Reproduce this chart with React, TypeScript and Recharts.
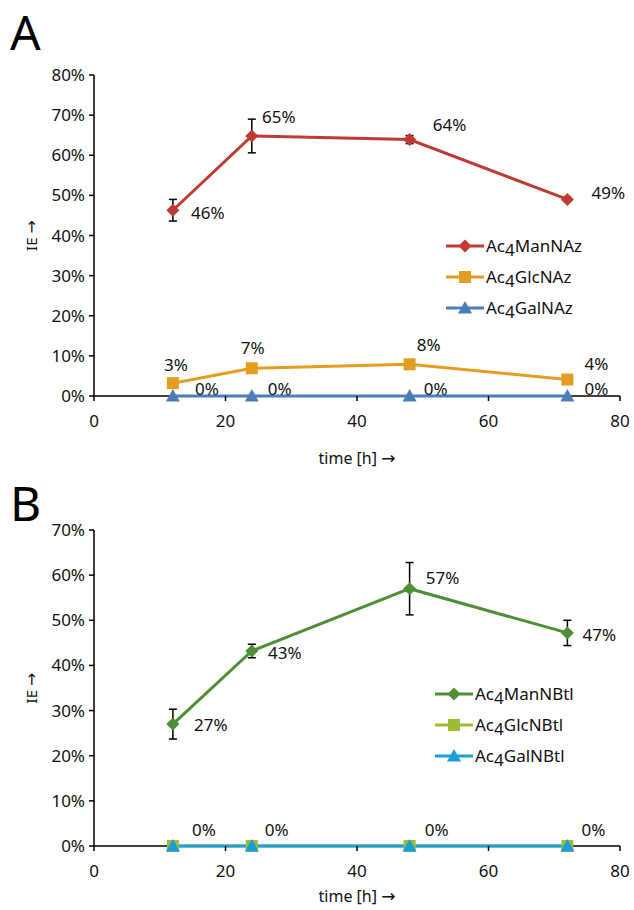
import { CartesianGrid, ErrorBar, Label, LabelList, Legend, Line, LineChart, XAxis, YAxis } from 'recharts';

const FONT = "'Noto Sans', sans-serif";
const ARROW_FONT = "'DejaVu Sans', sans-serif";

// shared x values (hours)
const HOURS = [12, 24, 48, 72];
const X_TICKS = [0, 20, 40, 60, 80];

// panel A
const MAN_NAZ = [46.3, 64.8, 63.9, 49.0];
const MAN_NAZ_ERR = [2.7, 4.2, 1.0, 0.5];
const GLC_NAZ = [3.2, 6.9, 7.9, 4.1];
const GAL_NAZ = [0, 0, 0, 0];
const A_Y_TICKS = [0, 10, 20, 30, 40, 50, 60, 70, 80];

// panel B
const MAN_NBTL = [27.0, 43.2, 57.0, 47.2];
const MAN_NBTL_ERR = [3.3, 1.5, 5.8, 2.8];
const GLC_NBTL = [0, 0, 0, 0];
const GAL_NBTL = [0, 0, 0, 0];
const B_Y_TICKS = [0, 10, 20, 30, 40, 50, 60, 70];

// label placement next to each point [dx, dy]
const OFF_A_MAN = [[35, 2], [27, -19], [40, -15], [41, -7]];
const OFF_A_GLC = [[3, -19], [1, -21], [19, -20], [29, -16]];
const OFF_A_GAL = [[34, -8], [28, -8], [26, -8], [29, -8]];
const OFF_B_MAN = [[38, 0], [33, 2], [33, -11], [32, 2]];
const OFF_B_ZERO = [[31, -17], [25, -17], [27, -17], [26, -17]];

const dataA = HOURS.map((h, i) => ({ hour: h, man: MAN_NAZ[i], manErr: MAN_NAZ_ERR[i], glc: GLC_NAZ[i], gal: GAL_NAZ[i] }));
const dataB = HOURS.map((h, i) => ({ hour: h, man: MAN_NBTL[i], manErr: MAN_NBTL_ERR[i], glc: GLC_NBTL[i], gal: GAL_NBTL[i] }));

type Shape = 'diamond' | 'square' | 'triangle';

function markerPath(shape: Shape, cx: number, cy: number) {
  if (shape === 'diamond') return `M${cx},${cy - 6.5}L${cx + 6.5},${cy}L${cx},${cy + 6.5}L${cx - 6.5},${cy}Z`;
  if (shape === 'square') return `M${cx - 6},${cy - 6}h12v12h-12Z`;
  return `M${cx},${cy - 7}L${cx + 7},${cy + 5.5}L${cx - 7},${cy + 5.5}Z`;
}

const dot = (shape: Shape, color: string) => (props: any) => {
  const { cx, cy, index } = props;
  if (cx == null || cy == null) return <g key={index} />;
  return <path key={index} d={markerPath(shape, cx, cy)} fill={color} />;
};

const pointLabel = (offsets: number[][]) => (props: any) => {
  const { x, y, value, index } = props;
  const [dx, dy] = offsets[index];
  return (
    <text key={index} x={x + dx} y={y + dy} textAnchor="middle" dominantBaseline="central" fontSize={17} fontFamily={FONT} fill="#111">
      {Math.round(value)}%
    </text>
  );
};

type Item = { pre: string; sub: string; post: string; color: string; shape: Shape };

const legendContent = (items: Item[]) => () => (
  <div style={{ fontFamily: FONT, fontSize: 17, color: '#111' }}>
    {items.map((it) => (
      <div key={it.post} style={{ display: 'flex', alignItems: 'center', height: 31 }}>
        <svg width={38} height={16} style={{ marginRight: 2 }}>
          <line x1={0} y1={8} x2={38} y2={8} stroke={it.color} strokeWidth={3} />
          <path d={markerPath(it.shape, 19, 8)} fill={it.color} />
        </svg>
        <span>
          {it.pre}
          <sub style={{ fontSize: 17, verticalAlign: -4, lineHeight: 0 }}>{it.sub}</sub>
          {it.post}
        </span>
      </div>
    ))}
  </div>
);

const yLabel = (props: any) => {
  const vb = props.viewBox;
  const cy = vb.y + vb.height / 2;
  return (
    <text x={31} y={cy} transform={`rotate(-90, 31, ${cy})`} textAnchor="middle" dominantBaseline="central" fontSize={15} fontFamily={FONT} fill="#111">
      IE <tspan fontFamily={ARROW_FONT} fontSize={16}>→</tspan>
    </text>
  );
};

const xLabel = (off: number) => (props: any) => {
  const vb = props.viewBox;
  return (
    <text x={vb.x + vb.width / 2} y={vb.y + off} textAnchor="middle" dominantBaseline="central" fontSize={16} fontFamily={FONT} fill="#111">
      time [h] <tspan fontFamily={ARROW_FONT} fontSize={17}>→</tspan>
    </text>
  );
};

const tickStyle = { fill: '#111', fontSize: 17, fontFamily: FONT };
const axisLine = { stroke: '#000', strokeWidth: 1.5 };

function Panel(props: {
  data: any[];
  yTicks: number[];
  yMax: number;
  height: number;
  xAxisHeight: number;
  xLabelOff: number;
  colors: string[];
  items: Item[];
  legendTop: number;
  legendLeft: number;
  offMan: number[][];
  offGlc: number[][] | null;
  offGal: number[][];
}) {
  const { data, yTicks, yMax, height, xAxisHeight, xLabelOff, colors, items, legendTop, legendLeft } = props;
  return (
    <LineChart width={634} height={height} data={data} margin={{ top: 75, right: 14, bottom: 0, left: 0 }}>
      {/* baseline drawn as a grid line so the 0% series sit on top of it */}
      <CartesianGrid vertical={false} horizontalValues={[0]} stroke="#000" strokeWidth={1.5} strokeDasharray="" />
      <XAxis
        dataKey="hour"
        type="number"
        domain={[0, 80]}
        ticks={X_TICKS}
        height={xAxisHeight}
        axisLine={false}
        tickLine={axisLine}
        tickSize={5}
        tickMargin={14}
        tick={tickStyle}
      >
        <Label content={xLabel(xLabelOff)} />
      </XAxis>
      <YAxis
        type="number"
        domain={[0, yMax]}
        ticks={yTicks}
        width={94}
        axisLine={axisLine}
        tickLine={axisLine}
        tickSize={5}
        tickMargin={4}
        tick={tickStyle}
        tickFormatter={(v) => `${v}%`}
      >
        <Label content={yLabel} />
      </YAxis>
      <Legend
        layout="horizontal"
        verticalAlign="middle"
        align="center"
        content={legendContent(items)}
        wrapperStyle={{ top: legendTop, left: legendLeft, width: 190 }}
      />
      <Line dataKey="man" stroke={colors[0]} strokeWidth={3} dot={dot('diamond', colors[0])} isAnimationActive={false}>
        <ErrorBar dataKey="manErr" direction="y" width={4} stroke="#000" strokeWidth={1.5} />
        <LabelList dataKey="man" content={pointLabel(props.offMan)} />
      </Line>
      <Line dataKey="glc" stroke={colors[1]} strokeWidth={3} dot={dot('square', colors[1])} isAnimationActive={false}>
        {props.offGlc && <LabelList dataKey="glc" content={pointLabel(props.offGlc)} />}
      </Line>
      <Line dataKey="gal" stroke={colors[2]} strokeWidth={3} dot={dot('triangle', colors[2])} isAnimationActive={false}>
        <LabelList dataKey="gal" content={pointLabel(props.offGal)} />
      </Line>
    </LineChart>
  );
}

const COLORS_A = ['#BE3A34', '#E39D21', '#4A7EBB'];
const COLORS_B = ['#4E8F35', '#9DBB33', '#1B9DDB'];

const ITEMS_A: Item[] = [
  { pre: 'Ac', sub: '4', post: 'ManNAz', color: COLORS_A[0], shape: 'diamond' },
  { pre: 'Ac', sub: '4', post: 'GlcNAz', color: COLORS_A[1], shape: 'square' },
  { pre: 'Ac', sub: '4', post: 'GalNAz', color: COLORS_A[2], shape: 'triangle' },
];
const ITEMS_B: Item[] = [
  { pre: 'Ac', sub: '4', post: 'ManNBtl', color: COLORS_B[0], shape: 'diamond' },
  { pre: 'Ac', sub: '4', post: 'GlcNBtl', color: COLORS_B[1], shape: 'square' },
  { pre: 'Ac', sub: '4', post: 'GalNBtl', color: COLORS_B[2], shape: 'triangle' },
];

export default function App() {
  return (
    <div style={{ position: 'absolute', left: 0, top: 0, width: 634, height: 910, background: '#fff', overflow: 'hidden' }}>
      <div style={{ position: 'absolute', left: 0, top: 0 }}>
        <Panel
          data={dataA}
          yTicks={A_Y_TICKS}
          yMax={80}
          height={470}
          xAxisHeight={74}
          xLabelOff={62}
          colors={COLORS_A}
          items={ITEMS_A}
          legendTop={230}
          legendLeft={446}
          offMan={OFF_A_MAN}
          offGlc={OFF_A_GLC}
          offGal={OFF_A_GAL}
        />
      </div>
      <div style={{ position: 'absolute', left: 0, top: 455 }}>
        <Panel
          data={dataB}
          yTicks={B_Y_TICKS}
          yMax={70}
          height={455}
          xAxisHeight={64}
          xLabelOff={50}
          colors={COLORS_B}
          items={ITEMS_B}
          legendTop={223}
          legendLeft={435}
          offMan={OFF_B_MAN}
          offGlc={null}
          offGal={OFF_B_ZERO}
        />
      </div>
      <div style={{ position: 'absolute', left: 10, top: 2, fontFamily: FONT, fontSize: 48, lineHeight: '60px', color: '#000' }}>A</div>
      <div style={{ position: 'absolute', left: 10, top: 473, fontFamily: FONT, fontSize: 48, lineHeight: '60px', color: '#000' }}>B</div>
    </div>
  );
}
